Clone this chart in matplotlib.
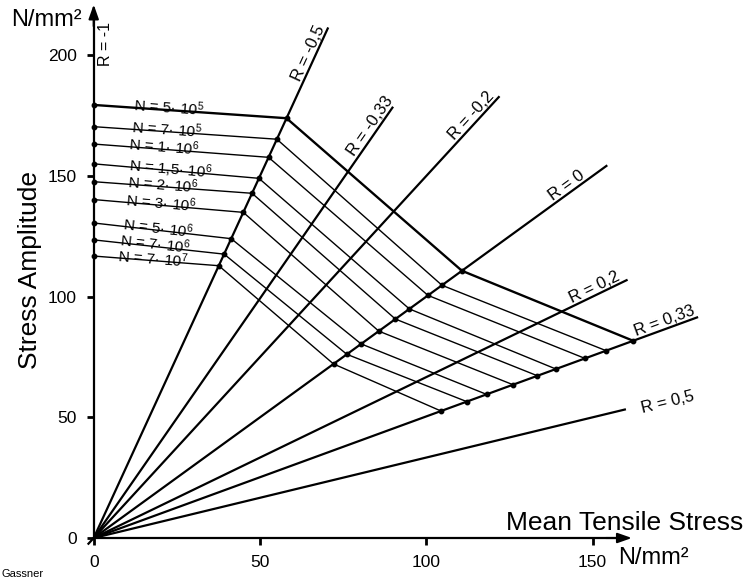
import matplotlib
matplotlib.use('Agg')
import matplotlib.pyplot as plt
import numpy as np

plt.rcParams['font.family'] = ['Liberation Sans', 'DejaVu Sans']
plt.rcParams['mathtext.fontset'] = 'custom'
plt.rcParams['mathtext.rm'] = 'Liberation Sans'
plt.rcParams['mathtext.it'] = 'Liberation Sans:italic'
plt.rcParams['mathtext.default'] = 'regular'

# ---------------- data ----------------
# stress ratio lines
R_values = [-0.5, -0.33, -0.2, 0.0, 0.2, 0.33, 0.5]
R_labels = ['R = -0,5', 'R = -0,33', 'R = -0,2', 'R = 0', 'R = 0,2', 'R = 0,33', 'R = 0,5']
R_line_end = [70.5, 90.0, 122.0, 154.4, 160.5, 181.7, 160.0]   # mean stress where each line ends

# constant-life curves (stress amplitude read on the R lines)
N_labels = ['N = 5· 10$^{5}$', 'N = 7· 10$^{5}$', 'N = 1· 10$^{6}$', 'N = 1,5· 10$^{6}$',
            'N = 2· 10$^{6}$', 'N = 3· 10$^{6}$', 'N = 5· 10$^{6}$', 'N = 7· 10$^{6}$',
            'N = 7· 10$^{7}$']
sa_R_m1 = [179.4, 170.4, 163.2, 155.0, 147.6, 140.2, 130.5, 123.5, 116.8]
sa_R_m05 = [173.9, 165.2, 157.7, 149.0, 142.8, 134.9, 124.0, 117.6, 112.8]
sa_R_0 = [110.7, 104.7, 100.5, 94.9, 90.7, 85.7, 80.4, 76.1, 72.1]
sa_R_033 = [81.7, 77.6, 74.4, 70.0, 67.2, 63.5, 59.5, 56.5, 52.6]

x_ticks = [0, 50, 100, 150]
y_ticks = [0, 50, 100, 150, 200]

# ---------------- layout ----------------
R_line_start = [0, 0, -1.8, 0, 0, 0, 0]
R_label_at = [66.5, 85.0, 115.3, 143.6, 151.4, 172.4, 172.5]
N_label_x = [11.8, 11.2, 10.3, 10.3, 10.0, 9.4, 8.5, 7.6, 7.0]


def ratio(R):
    return (1 - R) / (1 + R)


fig = plt.figure(figsize=(7.47, 5.81), dpi=100)
ax = fig.add_axes([0, 0, 1, 1])
ax.set_xlim(-28.17, 196.4)
ax.set_ylim(-17.81, 222.87)

# axes as spines through origin
for s in ['top', 'right']:
    ax.spines[s].set_visible(False)
ax.spines['left'].set_position(('data', 0))
ax.spines['bottom'].set_position(('data', 0))
ax.spines['left'].set_bounds(0, 216)
ax.spines['bottom'].set_bounds(0, 158)
ax.spines['left'].set_linewidth(1.6)
ax.spines['bottom'].set_linewidth(1.6)
ax.annotate('', xy=(0, 221), xytext=(0, 212),
            arrowprops=dict(arrowstyle='-|>,head_length=0.85,head_width=0.3',
                            color='k', lw=1.5, shrinkA=0, shrinkB=0))
ax.annotate('', xy=(161.8, 0), xytext=(154, 0),
            arrowprops=dict(arrowstyle='-|>,head_length=0.85,head_width=0.3',
                            color='k', lw=1.5, shrinkA=0, shrinkB=0))

ax.set_xticks(x_ticks)
ax.set_yticks(y_ticks)
ax.set_xticklabels([str(v) for v in x_ticks])
ax.set_yticklabels([str(v) for v in y_ticks])
ax.tick_params(direction='out', length=5, width=2, labelsize=12.5, pad=7)

# R lines
for R, lab, x0, x1, xl in zip(R_values, R_labels, R_line_start, R_line_end, R_label_at):
    k = ratio(R)
    ax.plot([x0, x1], [k * x0, k * x1], color='k', lw=1.6, solid_capstyle='butt')
    ang = np.degrees(np.arctan(k))
    if R == 0.5:
        ax.text(xl, k * xl - 1.2, lab, rotation=ang, transform_rotates_text=True,
                rotation_mode='anchor', ha='center', va='center', fontsize=12)
    else:
        ax.text(xl, k * xl, lab, rotation=ang, transform_rotates_text=True,
                rotation_mode='anchor', ha='center', va='bottom', fontsize=12)

ax.text(3.4, 204.6, 'R = -1', rotation=90, ha='center', va='center', fontsize=11.5)

# constant-life curves
k_m05, k_0, k_033 = ratio(-0.5), ratio(0.0), ratio(0.33)
for i, lab in enumerate(N_labels):
    xs = [0, sa_R_m05[i] / k_m05, sa_R_0[i] / k_0, sa_R_033[i] / k_033]
    ys = [sa_R_m1[i], sa_R_m05[i], sa_R_0[i], sa_R_033[i]]
    lw = 1.7 if i == 0 else 1.0
    ax.plot(xs, ys, color='k', lw=lw, marker='o', ms=3.2)
    x0 = N_label_x[i]
    yl = ys[0] + (ys[1] - ys[0]) * x0 / xs[1]
    ang = np.degrees(np.arctan2(ys[1] - ys[0], xs[1]))
    ax.text(x0, yl - 1.6, lab, rotation=ang, transform_rotates_text=True,
            rotation_mode='anchor', ha='left', va='baseline', fontsize=11)

# axis titles
ax.text(-19.1, 111, 'Stress Amplitude', rotation=90, ha='center', va='center', fontsize=19)
ax.text(195.2, 6.2, 'Mean Tensile Stress', ha='right', va='center', fontsize=19)
ax.text(157.6, -8.3, 'N/mm²', ha='left', va='center', fontsize=17)
ax.text(-3.5, 214.6, 'N/mm²', ha='right', va='center', fontsize=17)

fig.text(2 / 747, 2 / 581, 'Gassner', ha='left', va='bottom', fontsize=8)

fig.savefig('out.png', dpi=100)
